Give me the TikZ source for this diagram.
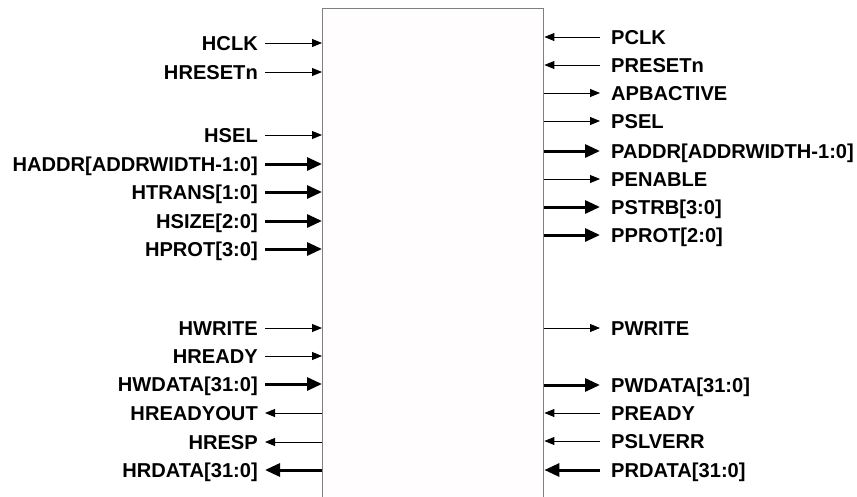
\documentclass[tikz,border=0pt]{standalone}
\usepackage{fontspec}
\setmainfont{Liberation Sans}
\usetikzlibrary{arrows.meta}

\begin{document}
\begin{tikzpicture}[
    x=1pt, y=-1pt,
    % Estilos de la caja y de las senales
    bridgebox/.style={draw=gray, line width=1.4pt, fill=pink!3, anchor=north west,
        minimum width=221pt, minimum height=540pt, inner sep=0pt},
    thinsig/.style={line width=0.9pt, -{Triangle[length=10pt,width=8pt]}},
    thicksig/.style={line width=3pt, -{Triangle[length=15pt,width=13pt]}},
    % Estilos para los textos
    sigtext/.style={font=\bfseries\fontsize{20.1}{21}\selectfont, text=black,
        text height=14.4pt, text depth=0pt, inner ysep=0pt},
    inlabel/.style={sigtext, anchor=east, inner xsep=7pt},
    outlabel/.style={sigtext, anchor=west, inner xsep=11pt}
]
\useasboundingbox (0,0) rectangle (857,496);
\clip (0,0) rectangle (857,496);

% --- BRIDGE ---
\node[bridgebox] (box) at (322,8) {};

% --- AHB SIDE ---
\node[inlabel] (hclk) at (265,43) {HCLK};
\node[inlabel] (hresetn) at (265,72) {HRESETn};
\node[inlabel] (hsel) at (265,135) {HSEL};
\node[inlabel] (haddr) at (265,164) {HADDR[ADDRWIDTH-1:0]};
\node[inlabel] (htrans) at (265,192) {HTRANS[1:0]};
\node[inlabel] (hsize) at (265,221) {HSIZE[2:0]};
\node[inlabel] (hprot) at (265,249) {HPROT[3:0]};
\node[inlabel] (hwrite) at (265,328) {HWRITE};
\node[inlabel] (hready) at (265,356) {HREADY};
\node[inlabel] (hwdata) at (265,384) {HWDATA[31:0]};
\node[inlabel] (hreadyout) at (265,413) {HREADYOUT};
\node[inlabel] (hresp) at (265,442) {HRESP};
\node[inlabel] (hrdata) at (265,470) {HRDATA[31:0]};

\draw[thinsig] (hclk) -- (hclk -| box.west);
\draw[thinsig] (hresetn) -- (hresetn -| box.west);
\draw[thinsig] (hsel) -- (hsel -| box.west);
\draw[thicksig] (haddr) -- (haddr -| box.west);
\draw[thicksig] (htrans) -- (htrans -| box.west);
\draw[thicksig] (hsize) -- (hsize -| box.west);
\draw[thicksig] (hprot) -- (hprot -| box.west);
\draw[thinsig] (hwrite) -- (hwrite -| box.west);
\draw[thinsig] (hready) -- (hready -| box.west);
\draw[thicksig] (hwdata) -- (hwdata -| box.west);
\draw[thinsig] (hreadyout -| box.west) -- (hreadyout);
\draw[thinsig] (hresp -| box.west) -- (hresp);
\draw[thicksig] (hrdata -| box.west) -- (hrdata);

% --- APB SIDE ---
\node[outlabel] (pclk) at (600,37) {PCLK};
\node[outlabel] (presetn) at (600,65) {PRESETn};
\node[outlabel] (apbactive) at (600,93) {APBACTIVE};
\node[outlabel] (psel) at (600,121) {PSEL};
\node[outlabel] (paddr) at (600,151) {PADDR[ADDRWIDTH-1:0]};
\node[outlabel] (penable) at (600,179) {PENABLE};
\node[outlabel] (pstrb) at (600,207) {PSTRB[3:0]};
\node[outlabel] (pprot) at (600,235) {PPROT[2:0]};
\node[outlabel] (pwrite) at (600,328) {PWRITE};
\node[outlabel] (pwdata) at (600,385) {PWDATA[31:0]};
\node[outlabel] (pready) at (600,413) {PREADY};
\node[outlabel] (pslverr) at (600,441) {PSLVERR};
\node[outlabel] (prdata) at (600,470) {PRDATA[31:0]};

\draw[thinsig] (pclk) -- (pclk -| box.east);
\draw[thinsig] (presetn) -- (presetn -| box.east);
\draw[thinsig] (apbactive -| box.east) -- (apbactive);
\draw[thinsig] (psel -| box.east) -- (psel);
\draw[thicksig] (paddr -| box.east) -- (paddr);
\draw[thinsig] (penable -| box.east) -- (penable);
\draw[thicksig] (pstrb -| box.east) -- (pstrb);
\draw[thicksig] (pprot -| box.east) -- (pprot);
\draw[thinsig] (pwrite -| box.east) -- (pwrite);
\draw[thicksig] (pwdata -| box.east) -- (pwdata);
\draw[thinsig] (pready) -- (pready -| box.east);
\draw[thinsig] (pslverr) -- (pslverr -| box.east);
\draw[thicksig] (prdata) -- (prdata -| box.east);

\end{tikzpicture}
\end{document}
